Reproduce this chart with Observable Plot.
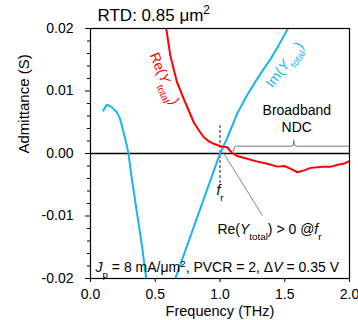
<!DOCTYPE html>
<html><head><meta charset="utf-8">
<script src="https://cdn.jsdelivr.net/npm/d3@7"></script>
<script src="https://cdn.jsdelivr.net/npm/@observablehq/plot@0.6"></script>
<style>body{margin:0;background:#fff;}</style>
</head><body><div id="chart"></div>
<script>
// Re(Y_total) series
const reFreq = [0.57, 0.585, 0.616, 0.668, 0.72, 0.76, 0.797, 0.84, 0.875, 0.91, 0.952, 1.004, 1.055, 1.095, 1.133, 1.21, 1.29, 1.366, 1.443, 1.495, 1.547, 1.598, 1.65, 1.70, 1.753, 1.805, 1.857, 1.91, 1.96, 2.0];
const reVal  = [0.0215, 0.0200, 0.0157, 0.0114, 0.00875, 0.0068, 0.0050, 0.0036, 0.0026, 0.0020, 0.00155, 0.00117, 0.0010, 0.00005, -0.0004, -0.00085, -0.0013, -0.00165, -0.0021, -0.0020, -0.00245, -0.0030, -0.0027, -0.0023, -0.0022, -0.0021, -0.0021, -0.0018, -0.0016, -0.0012];
// Im(Y_total) series
const imFreq = [0.099, 0.125, 0.16, 0.203, 0.225, 0.242, 0.26, 0.28, 0.293, 0.319, 0.358, 0.397, 0.43, 0.45, 0.64, 0.655, 0.75, 0.85, 0.95, 1.0, 1.05, 1.133, 1.2, 1.262, 1.33, 1.39, 1.45, 1.525, 1.55];
const imVal  = [0.0069, 0.0078, 0.0075, 0.0066, 0.0057, 0.0045, 0.0030, 0.0013, 0.0, -0.004, -0.0094, -0.0147, -0.0200, -0.0235, -0.0225, -0.0200, -0.0145, -0.0087, -0.0029, 0.0, 0.0022, 0.0064, 0.0090, 0.0111, 0.0133, 0.0151, 0.0172, 0.0200, 0.0210];
// ticks
const xTicks = [0, 0.5, 1.0, 1.5, 2.0];
const yTicks = [-0.02, -0.01, 0, 0.01, 0.02];
const yMinorTicks = [-0.018, -0.016, -0.014, -0.012, -0.008, -0.006, -0.004, -0.002, 0.002, 0.004, 0.006, 0.008, 0.012, 0.014, 0.016, 0.018];
// annotations
const resonanceFreq = [1.0];
const braceFreq = [1.105, 1.112, 1.125, 1.55, 1.565, 1.57, 1.575, 1.59, 2.0];
const braceVal  = [0.0004, 0.0010, 0.00117, 0.00117, 0.0013, 0.0021, 0.0013, 0.00117, 0.00117];

const RED = "#ff0000", BLUE = "#18b6f0";
const FONT = "'Liberation Sans', Arial, sans-serif";

const richTexts = {
  "RTD: 0.85 μm2": [{t: "RTD: 0.85 μm"}, {t: "2", sup: true}],
  "Re(Ytotal)": [{t: "Re("}, {t: "Y", i: true}, {t: "total", sub: true}, {t: ")"}],
  "Im(Ytotal)": [{t: "Im("}, {t: "Y", i: true}, {t: "total", sub: true}, {t: ")"}],
  "fr": [{t: "f", i: true}, {t: "r", sub: true}],
  "Re(Ytotal) > 0 @fr": [{t: "Re("}, {t: "Y", i: true}, {t: "total", sub: true}, {t: ") > 0 @"}, {t: "f", i: true}, {t: "r", sub: true}],
  "Jp = 8 mA/μm2, PVCR = 2, ΔV = 0.35 V": [{t: "J", i: true}, {t: "p", sub: true}, {t: " = 8 mA/μm"}, {t: "2", sup: true}, {t: ", PVCR = 2, Δ"}, {t: "V", i: true}, {t: " = 0.35 V"}]
};

const plot = Plot.plot({
  width: 358, height: 320,
  marginLeft: 90, marginRight: 9, marginTop: 28, marginBottom: 42,
  x: {domain: [0, 2]},
  y: {domain: [-0.02, 0.02]},
  style: {fontFamily: FONT, fontSize: "14px", color: "#000", background: "#fff"},
  marks: [
    Plot.axisY(yMinorTicks, {tickSize: 3, tickFormat: () => "", label: null}),
    Plot.axisY(yTicks, {tickSize: 5, tickPadding: 12, tickFormat: d => d.toFixed(2), label: null, fontSize: 14}),
    Plot.axisX(xTicks, {tickSize: 4, tickPadding: 7, tickFormat: d => d.toFixed(1), label: null, fontSize: 14}),
    Plot.ruleY([0], {stroke: "#000", strokeWidth: 1.5}),
    Plot.line(braceVal, {x: braceFreq, y: braceVal, stroke: "#777", strokeWidth: 1}),
    Plot.ruleX(resonanceFreq, {y1: 0.0045, y2: -0.0051, stroke: "#444", strokeWidth: 1.2, strokeDasharray: "3,2"}),
    Plot.link(resonanceFreq, {x1: d => d + 0.02, y1: 0.0003, x2: 1.327, y2: -0.0099, stroke: "#888", strokeWidth: 1}),
    Plot.line(imVal, {x: imFreq, y: imVal, stroke: BLUE, strokeWidth: 2, clip: true}),
    Plot.line(reVal, {x: reFreq, y: reVal, stroke: RED, strokeWidth: 2, clip: true}),
    Plot.frame({stroke: "#000", strokeWidth: 1.2}),
    Plot.text(["RTD: 0.85 μm2"], {frameAnchor: "top-left", textAnchor: "start", lineAnchor: "bottom", dx: 7, dy: -8, fontSize: 17}),
    Plot.text(["Admittance (S)"], {frameAnchor: "left", lineAnchor: "middle", rotate: -90, dx: -66, fontSize: 15}),
    Plot.text(["Frequency (THz)"], {frameAnchor: "bottom", lineAnchor: "bottom", dy: 37, fontSize: 14.5}),
    Plot.text(["Re(Ytotal)"], {x: 0.57, y: 0.012, rotate: 67, fill: RED, fontSize: 14}),
    Plot.text(["Im(Ytotal)"], {x: 1.5, y: 0.0142, rotate: -53, fill: BLUE, fontSize: 14}),
    Plot.text(["Broadband\nNDC"], {x: 1.593, y: 0.00352, lineAnchor: "bottom", lineHeight: 1.15, fontSize: 14}),
    Plot.text(["fr"], {x: 1.0, y: -0.0067, lineAnchor: "bottom", fontSize: 14}),
    Plot.text(["Re(Ytotal) > 0 @fr"], {x: 0.98, y: -0.0128, textAnchor: "start", lineAnchor: "bottom", fontSize: 14}),
    Plot.text(["Jp = 8 mA/μm2, PVCR = 2, ΔV = 0.35 V"], {frameAnchor: "bottom-left", textAnchor: "start", lineAnchor: "bottom", dx: 5, dy: -7, fontSize: 14})
  ]
});

const svgns = "http://www.w3.org/2000/svg";
d3.select(plot).selectAll("text").each(function() {
  const segs = richTexts[this.textContent];
  if (!segs) return;
  this.textContent = "";
  for (const s of segs) {
    const ts = document.createElementNS(svgns, "tspan");
    ts.textContent = s.t;
    if (s.i) ts.setAttribute("font-style", "italic");
    if (s.sub) { ts.setAttribute("baseline-shift", "sub"); ts.style.fontSize = "0.7em"; }
    if (s.sup) { ts.setAttribute("baseline-shift", "super"); ts.style.fontSize = "0.7em"; }
    this.appendChild(ts);
  }
});
document.getElementById("chart").appendChild(plot);
</script></body></html>
